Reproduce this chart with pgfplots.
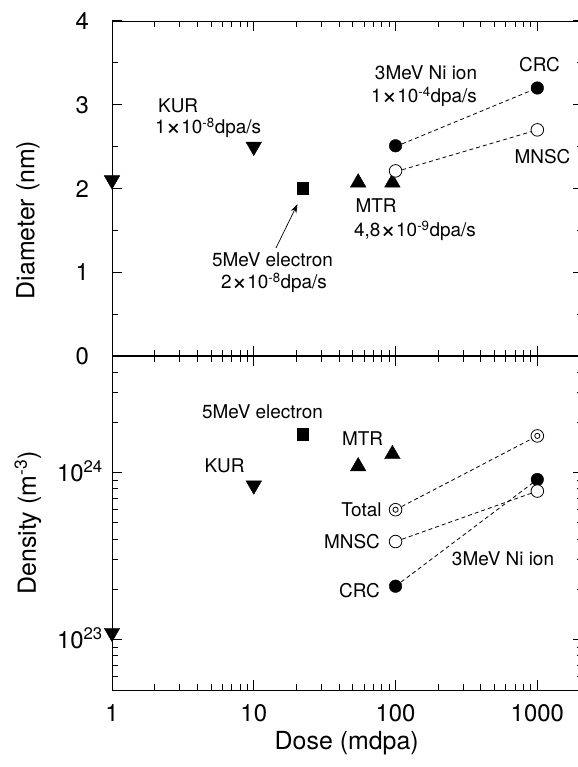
\documentclass[border=0pt]{standalone}
\usepackage{fontspec}
\setmainfont{TeX Gyre Heros}
\usepackage{graphicx}
\usepackage{pgfplots}
\pgfplotsset{compat=1.18}
\usetikzlibrary{arrows.meta}

\newcommand{\tickfont}{\fontsize{24}{28}\selectfont}
\newcommand{\labfont}{\fontsize{25}{30}\selectfont}
\newcommand{\annfont}{\fontsize{19}{22}\selectfont}
\newcommand{\tm}{\raisebox{-0.08em}{\fontsize{27}{27}\selectfont ×}}

\pgfplotsset{
  tickwidth=0.35cm, subtickwidth=0.2cm,
  every tick/.append style={line width=1bp, black},
  every axis/.append style={
    width=471bp, height=335bp, scale only axis,
    xmin=1, xmax=2100,
    axis line style={line width=0.9bp, black},
    major tick style={line width=1bp, black},
    minor tick style={line width=1bp, black},
    tick align=inside,
    xtick={1,10,100,1000},
    minor xtick={2,3,4,5,6,7,8,9,20,30,40,50,60,70,80,90,200,300,400,500,600,700,800,900},
    clip=false,
    ticklabel style={font=\tickfont},
  },
  mtri/.style={only marks, mark=triangle*, mark size=9bp, mark options={fill=black, draw=black}},
  mtrid/.style={only marks, mark=triangle*, mark size=9bp, mark options={fill=black, draw=black, rotate=180}},
  msq/.style={only marks, mark=square*, mark size=5.8bp, mark options={fill=black, draw=black}},
  mfc/.style={only marks, mark=*, mark size=6.3bp, mark options={fill=black, draw=black}},
  moc/.style={only marks, mark=*, mark size=6.3bp, mark options={fill=white, draw=black, line width=0.8bp}},
  mic/.style={only marks, mark=o, mark size=2.6bp, mark options={draw=black, line width=0.8bp}},
  mdl/.style={black, line width=0.8bp, dash pattern=on 4bp off 3bp, no marks},
}

\begin{document}
\begin{tikzpicture}
\useasboundingbox (0bp,0bp) rectangle (578bp,767bp);

% ---------------- top panel: diameter ----------------
\begin{semilogxaxis}[
  at={(112bp,411bp)}, anchor=south west,
  tickwidth=0.35cm, subtickwidth=0.2cm,
  ymin=0, ymax=4,
  ytick={0,1,2,3,4}, yticklabels={0,1,2,3,4},
  minor ytick={0.5,1.5,2.5,3.5},
  xticklabels={,,,},
  yticklabel style={anchor=base east, inner sep=0pt, xshift=-23bp, yshift=-8.6bp},
]
\addplot[mdl] coordinates {(100,2.5) (1000,3.2)};
\addplot[mdl] coordinates {(100,2.2) (1000,2.7)};
\addplot[mtrid] coordinates {(1,2.1) (10,2.5)};
\addplot[msq] coordinates {(22.2,2.0)};
\addplot[mtri] coordinates {(54.5,2.07) (95,2.07)};
\addplot[mfc] coordinates {(100,2.51) (1000,3.2)};
\addplot[moc] coordinates {(100,2.21) (1000,2.7)};
\end{semilogxaxis}

% ---------------- bottom panel: density ----------------
\begin{loglogaxis}[
  at={(112bp,77bp)}, anchor=south west, height=334bp,
  tickwidth=0.35cm, subtickwidth=0.2cm,
  ymin=5e22, ymax=5e24,
  ytick={1e23,1e24}, yticklabels={10\textsuperscript{23},10\textsuperscript{24}},
  minor ytick={6e22,7e22,8e22,9e22,2e23,3e23,4e23,5e23,6e23,7e23,8e23,9e23,2e24,3e24,4e24},
  xticklabels={1,10,100,1000},
  yticklabel style={anchor=base east, inner sep=0pt, xshift=-9bp, yshift=-8.6bp},
  xticklabel style={anchor=base, inner sep=0pt, yshift=-31.5bp},
]
\addplot[mdl] coordinates {(100,6e23) (1000,1.66e24)};
\addplot[mdl] coordinates {(100,3.87e23) (1000,7.76e23)};
\addplot[mdl] coordinates {(100,2.09e23) (1000,9.1e23)};
\addplot[mtrid] coordinates {(1,1.1e23) (10,8.4e23)};
\addplot[msq] coordinates {(22.2,1.7e24)};
\addplot[mtri] coordinates {(54.5,1.09e24) (95,1.29e24)};
\addplot[mfc] coordinates {(100,2.09e23) (1000,9.1e23)};
\addplot[moc] coordinates {(100,3.87e23) (1000,7.76e23)};
\addplot[moc] coordinates {(100,6e23) (1000,1.66e24)};
\addplot[mic] coordinates {(100,6e23) (1000,1.66e24)};
\end{loglogaxis}

\draw[line width=0.7bp, -{Stealth[length=9bp,width=6bp]}] (276bp,519bp) -- (297.5bp,563bp);

% ---------------- annotations ----------------
\begin{scope}[every node/.style={font=\annfont, inner sep=0pt}]
\node[anchor=west] at (158bp,661bp) {KUR};
\node[anchor=west] at (155bp,639bp) {1\tm10\textsuperscript{-8}dpa/s};
\node at (272.5bp,507bp) {5MeV electron};
\node at (274bp,484bp) {2\tm10\textsuperscript{-8}dpa/s};
\node at (376bp,561bp) {MTR};
\node at (415bp,536bp) {4,8\tm10\textsuperscript{-9}dpa/s};
\node at (426bp,694bp) {3MeV Ni ion};
\node at (424bp,670bp) {1\tm10\textsuperscript{-4}dpa/s};
\node at (539.5bp,702bp) {CRC};
\node at (542.5bp,610.3bp) {MNSC};

\node at (262.5bp,355.3bp) {5MeV electron};
\node at (224.5bp,301bp) {KUR};
\node at (362.5bp,328.7bp) {MTR};
\node[anchor=east] at (381.7bp,257.7bp) {Total};
\node[anchor=east] at (380bp,225.3bp) {MNSC};
\node[anchor=east] at (380bp,176.3bp) {CRC};
\node at (503bp,208.7bp) {3MeV Ni ion};
\end{scope}

\node[font=\labfont, rotate=90] at (28bp,547bp) {Diameter (nm)};
\node[font=\labfont, rotate=90] at (28bp,244bp) {Density (m\textsuperscript{-3})};
\node[font=\labfont] at (346.7bp,24bp) {Dose (mdpa)};
\end{tikzpicture}
\end{document}
